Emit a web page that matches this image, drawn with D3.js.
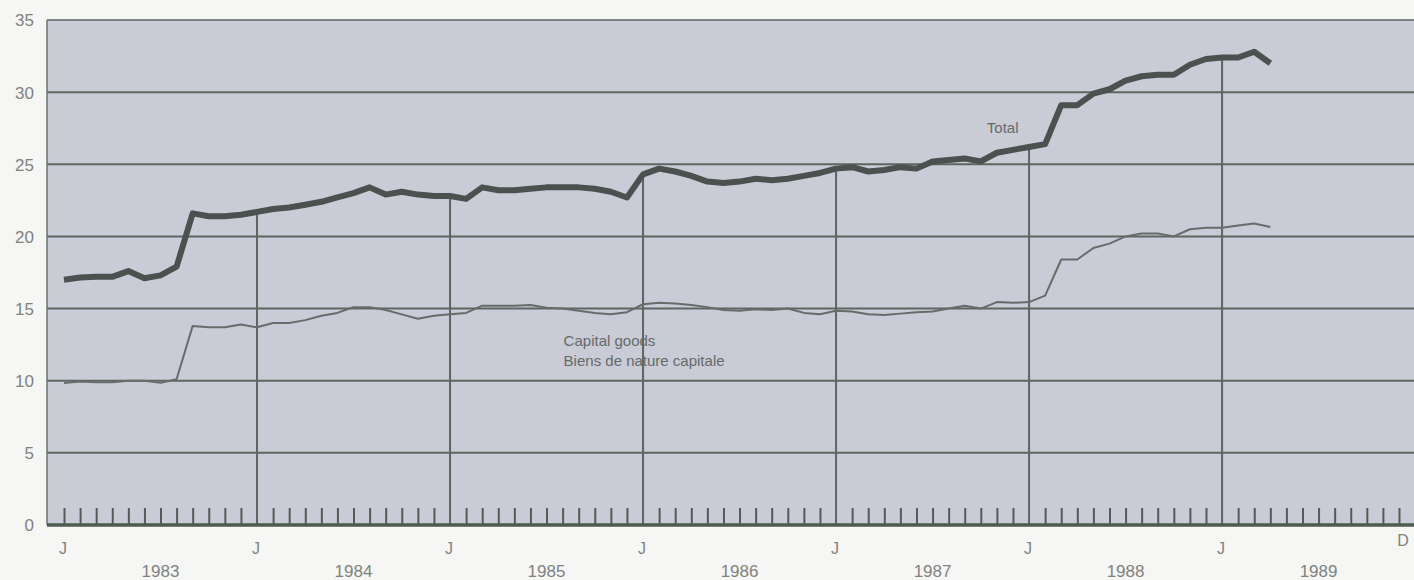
<!DOCTYPE html>
<html>
<head>
<meta charset="utf-8">
<script src="https://cdn.jsdelivr.net/npm/d3@7"></script>
<style>
  html, body { margin: 0; padding: 0; background: #f6f6f4; }
  svg { display: block; }
  text { font-family: "Liberation Sans", Arial, sans-serif; }
</style>
</head>
<body>
<svg id="chart" width="1414" height="580"></svg>
<script>
// ---------- data (monthly, Jan 1983 onward) ----------
const startYear = 1983;
const years = ["1983", "1984", "1985", "1986", "1987", "1988", "1989"];
const yTicks = [0, 5, 10, 15, 20, 25, 30, 35];
const monthLabels = { 0: "J", 12: "J", 24: "J", 36: "J", 48: "J", 60: "J", 72: "J", 83: "D" };

const totalValues = [
  17.0, 17.15, 17.2, 17.2, 17.6, 17.1, 17.3, 17.9, 21.6, 21.4, 21.4, 21.5,
  21.7, 21.9, 22.0, 22.2, 22.4, 22.7, 23.0, 23.4, 22.9, 23.1, 22.9, 22.8,
  22.8, 22.6, 23.4, 23.2, 23.2, 23.3, 23.4, 23.4, 23.4, 23.3, 23.1, 22.7,
  24.3, 24.7, 24.5, 24.2, 23.8, 23.7, 23.8, 24.0, 23.9, 24.0, 24.2, 24.4,
  24.7, 24.8, 24.5, 24.6, 24.8, 24.7, 25.2, 25.3, 25.4, 25.2, 25.8, 26.0,
  26.2, 26.4, 29.1, 29.1, 29.9, 30.2, 30.8, 31.1, 31.2, 31.2, 31.9, 32.3,
  32.4, 32.4, 32.8, 32.0
];
const capitalValues = [
  9.85, 9.95, 9.9, 9.9, 10.0, 10.0, 9.85, 10.1, 13.8, 13.7, 13.7, 13.9,
  13.7, 14.0, 14.0, 14.2, 14.5, 14.7, 15.1, 15.1, 14.9, 14.6, 14.3, 14.5,
  14.6, 14.7, 15.2, 15.2, 15.2, 15.25, 15.05, 15.0, 14.85, 14.7, 14.6, 14.75,
  15.3, 15.4, 15.35, 15.25, 15.1, 14.9, 14.85, 14.95, 14.9, 15.0, 14.7, 14.6,
  14.85, 14.8, 14.6, 14.55, 14.65, 14.75, 14.8, 15.0, 15.2, 15.0, 15.45, 15.4,
  15.45, 15.9, 18.4, 18.4, 19.2, 19.5, 20.0, 20.2, 20.2, 20.0, 20.5, 20.6,
  20.6, 20.75, 20.9, 20.65
];
const seriesLabels = { total: "Total", capital1: "Capital goods", capital2: "Biens de nature capitale" };
const monthCount = years.length * 12;

// ---------- layout ----------
const svg = d3.select("#chart");
const plotLeft = 47, plotRight = 1414, plotTop = 20, plotBottom = 525;

const x = d3.scaleLinear().domain([0, monthCount - 1]).range([64, 1399]);
const y = d3.scaleLinear().domain([0, 35]).range([plotBottom, plotTop]);

const gridColor = "#5c6762";
const textColor = "#808281";

// plot background
svg.append("rect")
  .attr("x", plotLeft).attr("y", plotTop)
  .attr("width", plotRight - plotLeft).attr("height", plotBottom - plotTop)
  .attr("fill", "#c9cbd6");

// horizontal gridlines (incl. 35 top border)
svg.append("g").selectAll("line")
  .data(yTicks.filter(d => d > 0))
  .join("line")
  .attr("x1", plotLeft).attr("x2", plotRight)
  .attr("y1", d => y(d)).attr("y2", d => y(d))
  .attr("stroke", gridColor).attr("stroke-width", d => d === 35 ? 1.5 : 2);

// left border
svg.append("line")
  .attr("x1", plotLeft).attr("x2", plotLeft)
  .attr("y1", plotTop).attr("y2", plotBottom)
  .attr("stroke", "#6a736e").attr("stroke-width", 1.5);

// monthly minor ticks via axis
const months = d3.range(monthCount);
const majorMonths = months.filter(m => m > 0 && m % 12 === 0);
const minorAxis = d3.axisBottom(x)
  .tickValues(months.filter(m => !(m > 0 && m % 12 === 0)))
  .tickSizeInner(-17).tickSizeOuter(0).tickFormat("");
const gMinor = svg.append("g").attr("transform", `translate(0,${plotBottom})`).call(minorAxis);
gMinor.select(".domain").remove();
gMinor.selectAll(".tick line").attr("stroke", "#525c56").attr("stroke-width", 2);

// major vertical lines from the Total line down to the baseline
svg.append("g").selectAll("line")
  .data(majorMonths)
  .join("line")
  .attr("x1", d => x(d)).attr("x2", d => x(d))
  .attr("y1", d => y(totalValues[d] !== undefined ? totalValues[d] : 35))
  .attr("y2", plotBottom)
  .attr("stroke", gridColor).attr("stroke-width", 2);

// lines
const line = d3.line().x((d, i) => x(i)).y(d => y(d)).curve(d3.curveLinear);
svg.append("path").datum(capitalValues)
  .attr("d", line).attr("fill", "none")
  .attr("stroke", "#676c6b").attr("stroke-width", 2).attr("stroke-linejoin", "round");
svg.append("path").datum(totalValues)
  .attr("d", line).attr("fill", "none")
  .attr("stroke", "#4a514e").attr("stroke-width", 6).attr("stroke-linejoin", "round");

// baseline
svg.append("line")
  .attr("x1", plotLeft).attr("x2", plotRight)
  .attr("y1", plotBottom).attr("y2", plotBottom)
  .attr("stroke", "#4e5b50").attr("stroke-width", 3.5);

// y axis labels
const yAxis = d3.axisLeft(y).tickValues(yTicks).tickSize(0).tickPadding(0).tickFormat(d3.format("d"));
const gY = svg.append("g").attr("transform", "translate(34,0)").call(yAxis);
gY.select(".domain").remove();
gY.selectAll("text")
  .attr("font-size", 17).attr("fill", textColor)
  .attr("font-family", "Liberation Sans, Arial, sans-serif")
  .attr("dy", "0.35em");

// month letters
const mKeys = Object.keys(monthLabels).map(Number);
svg.append("g").selectAll("text")
  .data(mKeys)
  .join("text")
  .attr("x", d => d === 83 ? x(d) + 4 : x(d) - 1)
  .attr("y", d => d === 83 ? 546 : 554)
  .attr("text-anchor", "middle")
  .attr("font-size", 16).attr("fill", textColor)
  .text(d => monthLabels[d]);

// year labels centred between Januaries
svg.append("g").selectAll("text")
  .data(years)
  .join("text")
  .attr("x", (d, i) => x(i * 12 + 6))
  .attr("y", 577)
  .attr("text-anchor", "middle")
  .attr("font-size", 17).attr("fill", textColor)
  .text(d => d);

// series labels
svg.append("text")
  .attr("x", x(57) + 6).attr("y", y(27.2))
  .attr("font-size", 15).attr("fill", "#666a69")
  .text(seriesLabels.total);
svg.append("text")
  .attr("x", x(31) + 1).attr("y", y(12.4))
  .attr("font-size", 15).attr("fill", "#666a69")
  .text(seriesLabels.capital1);
svg.append("text")
  .attr("x", x(31) + 1).attr("y", y(11.0))
  .attr("font-size", 15).attr("fill", "#666a69")
  .text(seriesLabels.capital2);
</script>
</body>
</html>
